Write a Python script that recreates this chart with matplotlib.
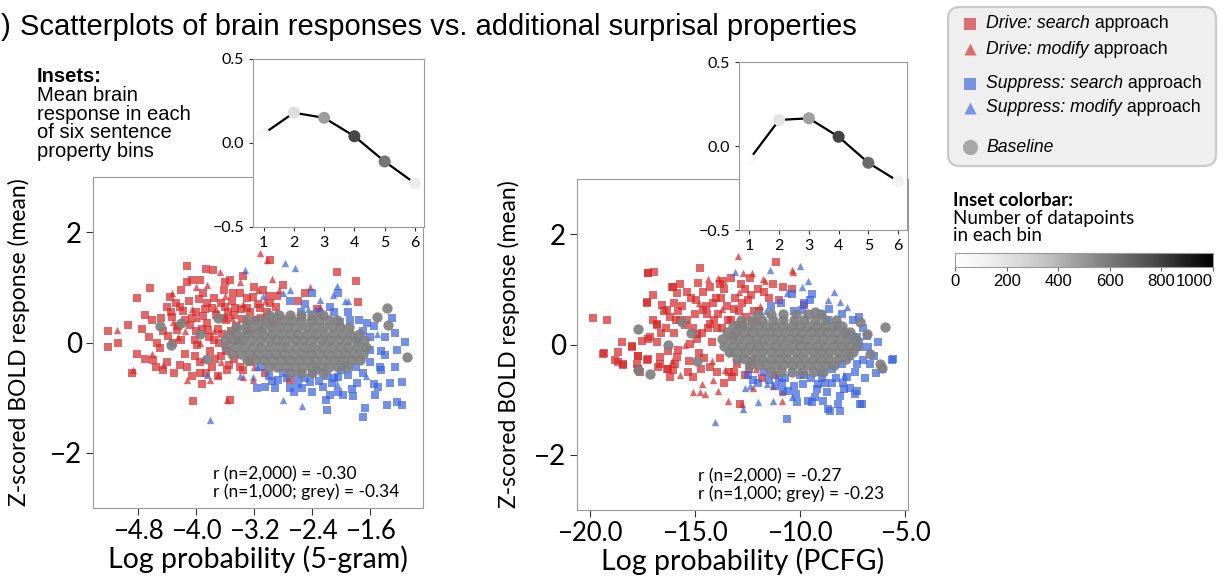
import numpy as np
import matplotlib
matplotlib.use("Agg")
import matplotlib.pyplot as plt
from matplotlib.patches import FancyBboxPatch
from matplotlib.colors import Normalize
from matplotlib.cm import ScalarMappable

# ---------------- data ----------------
# 5-gram log probability panel: (log prob, z-scored BOLD)
drive_search_5g = [
    (-5.21, 0.2), (-5.21, -0.08), (-5.08, 0.0), (-4.94, 0.32), (-4.81, 0.81), (-4.63, 0.98),
    (-4.70, 0.5), (-4.81, -0.2), (-4.88, -0.55), (-4.59, -0.32), (-4.45, -0.5), (-4.13, 1.38),
    (-4.06, 1.14), (-3.94, 1.14), (-3.86, 1.34), (-3.77, 1.32), (-4.04, -1.06), (-3.94, -0.55),
    (-4.22, 0.65), (-4.33, 0.47), (-4.26, 0.23), (-3.85, 0.72), (-3.53, 1.14), (-3.49, 0.9),
    (-2.98, 1.5), (-2.06, 1.27), (-1.79, 1.12), (-1.77, 0.74), (-2.33, 0.6), (-2.70, -0.68),
    (-3.57, -0.5), (-3.53, -1.04), (-4.54, 0.0), (-4.39, 0.11),
    (-4.35, 0.55), (-4.25, 0.3), (-4.2, 0.05), (-4.15, -0.2), (-4.1, 0.75), (-4.05, 0.45),
    (-4.0, 0.2), (-3.98, -0.05), (-3.95, -0.35), (-3.9, 0.9), (-3.88, 0.6), (-3.85, 0.35),
    (-3.82, 0.1), (-3.8, -0.15), (-3.78, -0.45), (-3.75, 0.8), (-3.72, 0.5), (-3.7, 0.25),
    (-3.68, 0.0), (-3.65, -0.25), (-3.62, 0.95), (-3.6, 0.65), (-3.58, 0.4), (-3.55, -0.4),
    (-3.5, 0.75), (-3.48, 0.5), (-3.45, 0.3), (-3.4, 0.9), (-3.38, 0.6), (-3.35, -0.5),
    (-3.3, 0.8), (-3.25, 0.55), (-3.2, 1.0), (-3.15, 0.7), (-3.1, 0.45), (-3.05, -0.55),
    (-3.0, 0.85), (-2.9, 0.65), (-2.8, 1.05), (-4.45, 0.2), (-4.5, -0.1), (-4.4, -0.35),
    (-4.3, -0.55), (-4.6, 0.4), (-4.65, 0.1), (-4.7, -0.3), (-4.75, 0.25), (-4.55, -0.45),
    (-4.05, -0.6), (-3.92, -0.75), (-4.2, 0.95), (-4.12, 1.1), (-3.7, -0.6), (-2.95, 0.35),
    (-3.25, -0.35), (-4.0, 0.55), (-3.92, 0.25), (-3.75, 0.05), (-3.62, 0.45), (-4.15, 0.4),
    (-4.28, 0.72), (-4.18, 0.58), (-4.08, 0.32), (-4.02, 0.05), (-3.96, 0.78), (-3.9, 0.48),
    (-3.84, 0.22), (-3.78, 0.62), (-3.74, -0.3), (-3.66, 0.72), (-3.64, 0.15), (-3.56, 0.55),
    (-3.52, 0.2), (-3.46, 0.62), (-3.42, 0.05), (-3.36, 0.42), (-3.3, 0.62), (-3.28, 0.2),
    (-3.22, 0.82), (-3.18, 0.4), (-3.12, 0.62), (-3.08, 0.95), (-3.02, 0.55), (-2.98, 0.72),
    (-2.88, 0.85), (-4.32, 0.0), (-4.22, -0.4), (-4.12, -0.45), (-4.4, 0.65), (-4.48, 0.45),
    (-4.36, 0.82), (-3.58, -0.15), (-3.48, -0.3), (-3.4, -0.45), (-4.02, -0.25), (-3.86, -0.55),
    (-2.6, 0.75), (-2.5, 0.9), (-3.35, 1.2), (-3.6, 1.1),
]
drive_modify_5g = [
    (-5.09, 0.23), (-4.87, -0.5), (-4.33, 0.9), (-4.13, -0.68), (-3.81, -0.68), (-3.70, -0.59),
    (-3.35, -0.62), (-3.21, -0.68), (-3.12, 1.63), (-3.02, 1.5), (-3.67, 1.27), (-3.39, 1.1),
    (-2.43, 1.01), (-2.29, 0.65), (-3.57, -1.04), (-4.32, 0.38),
    (-4.25, 0.1), (-4.05, 0.6), (-3.9, -0.3), (-3.75, 0.2), (-3.6, 0.85), (-3.45, -0.2),
    (-3.3, 0.4), (-3.15, 0.95), (-4.45, -0.4), (-4.0, 1.0), (-3.55, 0.05), (-3.2, -0.45),
    (-4.6, -0.2), (-3.05, 0.75), (-2.95, 1.15),
    (-4.15, 0.2), (-3.98, 0.45), (-3.72, 0.6), (-3.5, 0.45), (-3.35, 0.7), (-3.65, -0.35),
    (-3.95, 0.0), (-3.85, 1.05), (-3.1, 0.3), (-2.85, 0.95),
]
suppress_search_5g = [
    (-2.40, 0.9), (-2.04, 0.9), (-1.26, 0.18), (-1.12, 0.01), (-1.23, -0.13), (-1.39, -0.22),
    (-1.46, -0.44), (-1.26, -0.44), (-1.16, -0.71), (-1.32, -0.73), (-1.49, -0.8), (-1.23, -1.08),
    (-1.16, -1.13), (-1.37, -1.13), (-1.67, -1.19), (-1.70, -1.35), (-1.53, -0.95), (-1.83, -0.97),
    (-1.97, -0.95), (-2.04, -0.89), (-2.19, -1.22), (-2.21, -1.04), (-2.13, -0.73), (-2.25, -0.8),
    (-2.40, -0.89), (-2.54, -0.82), (-2.43, -0.71), (-2.70, -0.82), (-2.87, -0.68), (-2.91, -0.82),
    (-3.05, -0.8), (-3.16, -0.82), (-1.77, 0.05), (-1.70, 0.2), (-1.88, 0.41), (-2.01, 0.38),
    (-1.64, 0.35), (-1.60, -0.13), (-1.78, -0.73), (-1.90, -0.59), (-2.04, -0.62),
    (-2.6, -0.6), (-2.4, -0.55), (-2.2, -0.6), (-2.0, -0.5), (-1.8, -0.45), (-1.6, -0.35),
    (-1.45, -0.15), (-1.4, 0.1), (-1.55, 0.3), (-2.8, -0.55), (-3.0, -0.6), (-1.9, 0.55),
    (-2.15, 0.65), (-2.5, 0.7), (-2.7, 0.75), (-1.3, 0.45), (-2.3, -0.7), (-2.6, -0.75),
    (-2.95, -0.7), (-2.75, -0.65), (-2.5, -0.65), (-2.35, -0.5), (-2.1, -0.65), (-1.95, -0.4),
    (-1.7, -0.55), (-1.55, -0.75), (-1.85, -0.85), (-2.15, -0.95), (-1.75, 0.4), (-2.1, 0.55),
    (-2.3, 0.55), (-1.6, 0.1), (-1.45, -0.5), (-2.65, -0.9), (-3.1, -0.45), (-2.55, 0.55),
]
suppress_modify_5g = [
    (-2.06, 1.03), (-2.29, 0.77), (-1.90, 0.76), (-2.80, -1.04), (-2.54, -1.15), (-2.77, 1.45),
    (-2.63, 1.35), (-3.07, 0.84), (-2.80, 0.9), (-3.21, -0.62), (-3.16, -0.44), (-3.81, -1.41),
    (-3.32, 1.32), (-1.94, 0.76), (-2.11, 0.86), (-3.85, -0.59),
    (-2.9, 0.55), (-2.45, 0.6), (-1.65, -0.6), (-2.05, -0.75), (-1.5, 0.15), (-3.4, -0.6),
    (-2.7, 0.95),
]
baseline_5g = [
    (-1.09, -0.26), (-1.37, 0.63), (-1.35, 0.32), (-1.50, 0.47), (-4.2, 0.35), (-3.95, 0.15),
    (-4.35, -0.05), (-3.85, -0.3), (-4.5, 0.3), (-3.7, 0.45),
    (-3.0, 0.5), (-2.85, 0.5), (-2.7, 0.5), (-2.55, 0.5), (-2.4, 0.5), (-2.25, 0.5),
    (-3.3, 0.4), (-3.17, 0.4), (-3.05, 0.4), (-2.92, 0.4), (-2.8, 0.4), (-2.67, 0.4),
    (-2.55, 0.4), (-2.42, 0.4), (-2.3, 0.4), (-2.17, 0.4), (-2.05, 0.4),
    (-3.45, 0.28), (-3.33, 0.28), (-3.21, 0.28), (-3.09, 0.28), (-2.97, 0.28), (-2.85, 0.28),
    (-2.73, 0.28), (-2.61, 0.28), (-2.49, 0.28), (-2.37, 0.28), (-2.25, 0.28), (-2.13, 0.28),
    (-2.01, 0.28), (-1.89, 0.28),
    (-3.55, 0.16), (-3.43, 0.16), (-3.31, 0.16), (-3.19, 0.16), (-3.07, 0.16), (-2.95, 0.16),
    (-2.83, 0.16), (-2.71, 0.16), (-2.59, 0.16), (-2.47, 0.16), (-2.35, 0.16), (-2.23, 0.16),
    (-2.11, 0.16), (-1.99, 0.16), (-1.87, 0.16), (-1.75, 0.16),
    (-3.6, 0.04), (-3.48, 0.04), (-3.36, 0.04), (-3.24, 0.04), (-3.12, 0.04), (-3.0, 0.04),
    (-2.88, 0.04), (-2.76, 0.04), (-2.64, 0.04), (-2.52, 0.04), (-2.4, 0.04), (-2.28, 0.04),
    (-2.16, 0.04), (-2.04, 0.04), (-1.92, 0.04), (-1.8, 0.04), (-1.68, 0.04),
    (-3.58, -0.08), (-3.46, -0.08), (-3.34, -0.08), (-3.22, -0.08), (-3.1, -0.08), (-2.98, -0.08),
    (-2.86, -0.08), (-2.74, -0.08), (-2.62, -0.08), (-2.5, -0.08), (-2.38, -0.08), (-2.26, -0.08),
    (-2.14, -0.08), (-2.02, -0.08), (-1.9, -0.08), (-1.78, -0.08), (-1.66, -0.08),
    (-3.5, -0.2), (-3.38, -0.2), (-3.26, -0.2), (-3.14, -0.2), (-3.02, -0.2), (-2.9, -0.2),
    (-2.78, -0.2), (-2.66, -0.2), (-2.54, -0.2), (-2.42, -0.2), (-2.3, -0.2), (-2.18, -0.2),
    (-2.06, -0.2), (-1.94, -0.2), (-1.82, -0.2), (-1.7, -0.2),
    (-3.3, -0.32), (-3.18, -0.32), (-3.06, -0.32), (-2.94, -0.32), (-2.82, -0.32), (-2.7, -0.32),
    (-2.58, -0.32), (-2.46, -0.32), (-2.34, -0.32), (-2.22, -0.32), (-2.1, -0.32), (-1.98, -0.32),
    (-1.86, -0.32), (-1.74, -0.32),
    (-3.0, -0.44), (-2.88, -0.44), (-2.76, -0.44), (-2.64, -0.44), (-2.52, -0.44), (-2.4, -0.44),
    (-2.28, -0.44), (-2.16, -0.44), (-2.04, -0.44), (-1.92, -0.44),
    (-2.7, -0.55), (-2.55, -0.55), (-2.4, -0.55), (-2.25, -0.55),
]

# PCFG log probability panel
drive_search_pcfg = [
    (-19.87, 0.48), (-19.2, 0.44), (-19.33, -0.16), (-18.49, 0.04), (-18.68, -0.32), (-18.44, -0.35),
    (-18.02, -0.03), (-17.71, -0.2), (-17.25, -0.27), (-17.71, -0.45), (-17.25, 1.3), (-17.14, 0.13),
    (-16.82, 0.36), (-16.67, -0.35), (-16.35, -0.44), (-16.29, -0.11), (-15.87, -0.23), (-16.03, 1.04),
    (-15.87, 0.93), (-16.59, 0.71), (-17.3, 0.75), (-16.35, 0.62), (-14.76, 1.38), (-14.84, 1.11),
    (-15.4, 0.44), (-15.24, 0.01), (-14.92, 0.19), (-14.6, 0.62), (-14.29, 0.38), (-13.81, 1.1),
    (-13.65, 1.16), (-12.86, -1.08), (-13.25, -0.59), (-11.14, 1.5), (-10.79, 1.04), (-10.4, 1.01),
    (-9.81, 0.71), (-16.03, -0.47), (-17.78, -0.35), (-17.22, 1.3), (-16.95, 1.31), (-16.11, 1.04),
    (-17.3, 0.77), (-17.22, 0.1), (-18.01, -0.05), (-17.54, 0.07), (-18.65, -0.14), (-19.37, -0.17),
    (-18.81, -0.29), (-18.41, -0.38), (-17.7, -0.2), (-17.3, -0.29), (-16.83, 0.38), (-16.67, -0.23),
    (-16.75, -0.4), (-16.27, -0.44), (-16.19, -0.59), (-17.7, -0.44), (-17.62, -0.5), (-15.08, -0.59),
    (-16.2, 0.5), (-16.0, 0.2), (-15.8, -0.1), (-15.6, 0.7), (-15.5, 0.35), (-15.3, -0.3),
    (-15.2, 0.85), (-15.0, 0.55), (-14.9, 0.1), (-14.8, -0.15), (-14.6, 0.95), (-14.5, 0.7),
    (-14.4, 0.3), (-14.3, -0.4), (-14.2, 0.05), (-14.0, 0.85), (-13.9, 0.55), (-13.8, -0.25),
    (-13.7, 0.3), (-13.6, 1.0), (-13.5, 0.7), (-13.4, -0.5), (-13.3, 0.45), (-13.2, 0.15),
    (-13.1, 0.85), (-13.0, -0.35), (-12.9, 0.6), (-12.8, 1.1), (-12.7, 0.35), (-12.6, -0.55),
    (-12.5, 0.8), (-12.4, 1.2), (-12.2, 0.6), (-12.0, 1.0), (-11.8, -0.6), (-16.5, 0.6),
    (-16.8, 0.05), (-17.0, 0.9), (-15.7, 1.1), (-14.7, -0.45), (-13.6, -0.7), (-11.5, 0.85),
    (-11.2, -0.55), (-15.9, 0.45), (-14.1, 0.45), (-12.3, -0.3),
    (-16.4, 0.3), (-16.0, 0.75), (-15.7, 0.45), (-15.4, 0.95), (-15.1, 0.3), (-14.95, 0.8),
    (-14.65, 0.2), (-14.45, 0.55), (-14.15, 0.75), (-13.95, 0.3), (-13.75, 0.85), (-13.45, 0.45),
    (-13.15, 0.65), (-12.95, 0.35), (-12.75, 0.75), (-12.55, 0.5), (-12.35, 0.9), (-12.15, 0.4),
    (-11.95, 0.6), (-11.7, 0.95), (-15.95, -0.35), (-15.35, -0.5), (-14.55, -0.25), (-13.95, -0.5),
    (-13.15, -0.5), (-12.45, -0.45), (-16.6, 0.2), (-17.0, 0.45), (-15.8, 0.6), (-14.3, 1.05),
    (-13.3, 1.2), (-12.6, 1.0), (-11.3, 1.1), (-11.0, 0.8),
]
drive_modify_pcfg = [
    (-12.94, 1.6), (-11.75, 1.19), (-10.4, 1.35), (-12.7, 1.29), (-15.08, -0.87), (-14.76, -0.87),
    (-14.52, -0.89), (-13.89, -0.84), (-13.41, -1.02), (-14.68, -0.71), (-14.13, -0.65), (-13.57, -0.47),
    (-10.87, -0.87), (-12.22, -0.78), (-14.37, 1.19), (-15.71, -0.56), (-10.87, -1.02), (-11.67, 1.16),
    (-10.35, 1.31), (-11.27, -0.75), (-12.78, -1.08),
    (-15.5, 0.0), (-14.8, 0.75), (-14.2, -0.3), (-13.7, 0.65), (-13.3, -0.15), (-12.9, 0.95),
    (-12.5, 0.2), (-12.1, -0.45), (-11.9, 0.7), (-16.1, -0.3), (-13.9, 1.2), (-12.3, 1.3),
]
suppress_search_pcfg = [
    (-5.59, -0.27), (-6.38, -0.52), (-6.75, -0.05), (-7.3, 0.13), (-6.98, -0.29), (-7.38, -0.5),
    (-7.78, -0.59), (-7.62, -0.78), (-7.38, -0.89), (-7.06, -1.07), (-8.1, -0.93), (-8.18, -1.08),
    (-8.1, -1.2), (-8.57, -1.2), (-8.89, -1.02), (-8.73, -0.87), (-9.13, -0.71), (-9.44, -1.05),
    (-10.16, -1.05), (-10.63, -1.35), (-10.56, -0.84), (-10.87, -0.69), (-9.84, -0.71), (-9.44, 0.92),
    (-9.52, 0.8), (-9.92, 0.62), (-8.25, 0.35), (-8.65, 0.44), (-10.4, 0.92), (-8.49, -0.69),
    (-7.94, -0.69), (-9.6, -1.02), (-8.65, -1.17), (-7.14, -1.08), (-7.3, -0.84), (-5.63, -0.29),
    (-6.11, -0.44), (-6.67, -0.35), (-7.46, 0.13), (-7.14, -0.05), (-10.79, -0.84), (-12.22, -0.65),
    (-10.0, -0.55), (-9.5, -0.6), (-9.0, -0.5), (-8.5, -0.45), (-8.0, -0.35), (-7.6, -0.2),
    (-7.2, 0.05), (-7.0, 0.3), (-7.5, 0.45), (-11.0, -0.6), (-11.5, -0.65), (-12.0, -0.7),
    (-9.2, -0.8), (-8.8, -0.7), (-10.3, -0.75), (-9.0, 0.55), (-8.6, 0.65), (-10.9, 0.75),
    (-6.5, -0.2), (-6.3, 0.05),
    (-12.5, -0.55), (-11.7, -0.5), (-11.2, -0.75), (-10.7, -0.6), (-10.2, -0.9), (-9.8, -0.55),
    (-9.3, -0.95), (-8.95, -0.6), (-8.3, -0.6), (-7.9, -0.8), (-7.3, -0.35), (-6.9, -0.6),
    (-6.8, 0.15), (-7.2, 0.5), (-8.0, 0.55), (-9.8, 0.75), (-10.3, 0.6), (-11.4, 0.7),
]
suppress_modify_pcfg = [
    (-14.05, -1.41), (-13.1, 1.31), (-10.0, 1.42), (-9.92, 1.04), (-10.63, 0.93), (-8.1, 0.77),
    (-7.78, 0.68), (-11.98, -1.05), (-11.27, -1.02), (-11.43, 1.35), (-8.65, 0.8), (-12.7, -1.17),
    (-12.62, -0.78), (-11.59, -0.71), (-12.86, -0.26),
    (-11.6, 0.6), (-12.4, -0.75), (-9.6, 1.15), (-7.9, -0.55), (-10.4, -0.95), (-8.4, 0.95),
]
baseline_pcfg = [
    (-17.7, 0.29), (-17.14, -0.53), (-17.7, -0.46), (-15.6, 0.4), (-14.9, -0.3), (-15.2, 0.2),
    (-16.3, 0.0), (-7.14, 0.41), (-5.95, 0.31), (-6.83, 0.19), (-6.19, -0.35), (-6.11, -0.43),
    (-6.67, -0.17), (-7.78, 0.19), (-9.29, 0.59),
    (-12.0, 0.55), (-11.4, 0.55), (-10.8, 0.55), (-10.2, 0.55), (-9.6, 0.55), (-9.0, 0.55),
    (-12.8, 0.45), (-12.3, 0.45), (-11.8, 0.45), (-11.3, 0.45), (-10.8, 0.45), (-10.3, 0.45),
    (-9.8, 0.45), (-9.3, 0.45), (-8.8, 0.45), (-8.3, 0.45),
    (-13.2, 0.33), (-12.8, 0.33), (-12.4, 0.33), (-12.0, 0.33), (-11.6, 0.33), (-11.2, 0.33),
    (-10.8, 0.33), (-10.4, 0.33), (-10.0, 0.33), (-9.6, 0.33), (-9.2, 0.33), (-8.8, 0.33),
    (-8.4, 0.33), (-8.0, 0.33),
    (-13.5, 0.22), (-13.1, 0.22), (-12.7, 0.22), (-12.3, 0.22), (-11.9, 0.22), (-11.5, 0.22),
    (-11.1, 0.22), (-10.7, 0.22), (-10.3, 0.22), (-9.9, 0.22), (-9.5, 0.22), (-9.1, 0.22),
    (-8.7, 0.22), (-8.3, 0.22), (-7.9, 0.22), (-7.6, 0.22),
    (-13.7, 0.1), (-13.3, 0.1), (-12.9, 0.1), (-12.5, 0.1), (-12.1, 0.1), (-11.7, 0.1),
    (-11.3, 0.1), (-10.9, 0.1), (-10.5, 0.1), (-10.1, 0.1), (-9.7, 0.1), (-9.3, 0.1),
    (-8.9, 0.1), (-8.5, 0.1), (-8.1, 0.1), (-7.7, 0.1), (-7.4, 0.1),
    (-13.6, -0.02), (-13.2, -0.02), (-12.8, -0.02), (-12.4, -0.02), (-12.0, -0.02), (-11.6, -0.02),
    (-11.2, -0.02), (-10.8, -0.02), (-10.4, -0.02), (-10.0, -0.02), (-9.6, -0.02), (-9.2, -0.02),
    (-8.8, -0.02), (-8.4, -0.02), (-8.0, -0.02), (-7.6, -0.02), (-7.3, -0.02),
    (-13.4, -0.14), (-13.0, -0.14), (-12.6, -0.14), (-12.2, -0.14), (-11.8, -0.14), (-11.4, -0.14),
    (-11.0, -0.14), (-10.6, -0.14), (-10.2, -0.14), (-9.8, -0.14), (-9.4, -0.14), (-9.0, -0.14),
    (-8.6, -0.14), (-8.2, -0.14), (-7.8, -0.14), (-7.5, -0.14),
    (-13.0, -0.26), (-12.6, -0.26), (-12.2, -0.26), (-11.8, -0.26), (-11.4, -0.26), (-11.0, -0.26),
    (-10.6, -0.26), (-10.2, -0.26), (-9.8, -0.26), (-9.4, -0.26), (-9.0, -0.26), (-8.6, -0.26),
    (-8.2, -0.26), (-7.8, -0.26),
    (-12.4, -0.38), (-12.0, -0.38), (-11.6, -0.38), (-11.2, -0.38), (-10.8, -0.38), (-10.4, -0.38),
    (-10.0, -0.38), (-9.6, -0.38), (-9.2, -0.38), (-8.8, -0.38), (-8.4, -0.38),
    (-11.4, -0.5), (-10.9, -0.5), (-10.4, -0.5), (-9.9, -0.5), (-9.4, -0.5), (-8.9, -0.5),
]

# inset: mean response per bin and bin counts
bins = [1, 2, 3, 4, 5, 6]
bin_mean_5g = [0.055, 0.18, 0.15, 0.04, -0.11, -0.24]
bin_count_5g = [40, 230, 480, 780, 620, 150]
bin_mean_pcfg = [-0.08, 0.155, 0.165, 0.055, -0.10, -0.21]
bin_count_pcfg = [30, 190, 470, 790, 650, 120]

r_text_5g = "r (n=2,000) = -0.30\nr (n=1,000; grey) = -0.34"
r_text_pcfg = "r (n=2,000) = -0.27\nr (n=1,000; grey) = -0.23"

# ---------------- style ----------------
RED = "#d62728"
BLUE = "#3a62dc"
GREY = "#808080"
SPINE = "#9a9a9a"
TICKFONT = "Lato"
TEXTFONT = "Liberation Sans"

W, H = 1226, 584
fig = plt.figure(figsize=(W / 100, H / 100), dpi=100)


def px_rect(x0, y0, x1, y1):
    return [x0 / W, 1 - y1 / H, (x1 - x0) / W, (y1 - y0) / H]


def scatter_panel(ax, ds, dm, ss, sm, base):
    for pts, col, mk in [(ds, RED, "s"), (dm, RED, "^"), (ss, BLUE, "s"), (sm, BLUE, "^")]:
        a = np.array(pts)
        ax.scatter(a[:, 0], a[:, 1], s=28, c=col, marker=mk, alpha=0.7, linewidths=0)
    b = np.array(base)
    ax.scatter(b[:, 0], b[:, 1], s=55, c=GREY, marker="o", alpha=0.92, linewidths=0)
    ax.set_ylim(-3, 3)
    ax.set_yticks([-2, 0, 2])
    ax.set_yticklabels(["\u22122", "0", "2"])
    for sp in ax.spines.values():
        sp.set_color(SPINE)
    ax.tick_params(axis="y", labelsize=20, color="#333333", length=5, pad=3)
    ax.tick_params(axis="x", labelsize=18.5, color="#333333", length=5, pad=3)
    for lab in ax.get_xticklabels() + ax.get_yticklabels():
        lab.set_fontfamily(TICKFONT)


def inset_panel(ax, means, counts):
    ax.plot(bins, means, color="black", lw=1.6, zorder=1)
    ax.scatter(bins, means, c=counts, cmap="Greys", norm=Normalize(0, 1000),
               s=75, zorder=2, linewidths=0)
    ax.set_ylim(-0.5, 0.5)
    ax.set_xlim(0.65, 6.3)
    ax.set_yticks([-0.5, 0.0, 0.5])
    ax.set_yticklabels(["\u22120.5", "0.0", "0.5"])
    ax.set_xticks(bins)
    for sp in ax.spines.values():
        sp.set_color(SPINE)
    ax.tick_params(labelsize=11.5, color="#333333", length=3)
    for lab in ax.get_xticklabels() + ax.get_yticklabels():
        lab.set_fontfamily(TICKFONT)


# left panel (5-gram)
ax1 = fig.add_axes(px_rect(93, 177, 423, 508))
scatter_panel(ax1, drive_search_5g, drive_modify_5g, suppress_search_5g,
              suppress_modify_5g, baseline_5g)
ax1.set_xlim(-5.42, -0.87)
ax1.set_xticks([-4.8, -4.0, -3.2, -2.4, -1.6])
ax1.set_xticklabels(["\u22124.8", "\u22124.0", "\u22123.2", "\u22122.4", "\u22121.6"],
                    fontfamily=TICKFONT)
ax1.set_xlabel("Log probability (5-gram)", fontsize=20.5, fontfamily=TICKFONT, labelpad=1)
ax1.set_ylabel("Z-scored BOLD response (mean)", fontsize=16.5, fontfamily=TICKFONT, labelpad=14)
ax1.text(0.364, 0.025, r_text_5g, transform=ax1.transAxes, fontsize=12.5,
         fontfamily=TICKFONT, va="bottom", ha="left", linespacing=1.05)

# right panel (PCFG)
ax2 = fig.add_axes(px_rect(577, 179, 908, 510))
scatter_panel(ax2, drive_search_pcfg, drive_modify_pcfg, suppress_search_pcfg,
              suppress_modify_pcfg, baseline_pcfg)
ax2.set_xlim(-20.62, -4.86)
ax2.set_xticks([-20, -15, -10, -5])
ax2.set_xticklabels(["\u221220.0", "\u221215.0", "\u221210.0", "\u22125.0"],
                    fontfamily=TICKFONT)
ax2.set_xlabel("Log probability (PCFG)", fontsize=20.5, fontfamily=TICKFONT, labelpad=1)
ax2.set_ylabel("Z-scored BOLD response (mean)", fontsize=16.5, fontfamily=TICKFONT, labelpad=10)
ax2.text(0.366, 0.025, r_text_pcfg, transform=ax2.transAxes, fontsize=12.5,
         fontfamily=TICKFONT, va="bottom", ha="left", linespacing=1.05)

# insets
in1 = fig.add_axes(px_rect(253, 59, 424, 227))
inset_panel(in1, bin_mean_5g, bin_count_5g)
in2 = fig.add_axes(px_rect(739, 62, 907, 230))
inset_panel(in2, bin_mean_pcfg, bin_count_pcfg)

# pixel-space overlay for title, notes and legend
ov = fig.add_axes([0, 0, 1, 1], zorder=-1)
ov.set_xlim(0, W)
ov.set_ylim(H, 0)
ov.axis("off")

ov.text(1, 27, ")", fontsize=21, fontfamily=TEXTFONT, ha="left", va="center")
ov.text(20, 27, "Scatterplots of brain responses vs. additional surprisal properties",
        fontsize=21, fontfamily=TEXTFONT, ha="left", va="center")

ov.text(37, 76, "Insets:", fontsize=14.5, fontweight="bold", fontfamily=TEXTFONT, va="center")
ov.text(37, 86, "Mean brain\nresponse in each\nof six sentence\nproperty bins", fontsize=14.5,
        fontfamily=TEXTFONT, va="top", linespacing=0.98)

# legend box
ov.add_patch(FancyBboxPatch((948, 7), 268, 159, boxstyle="round,pad=0,rounding_size=12",
                            facecolor="#efefef", edgecolor="#c9c9c9", linewidth=1.6))
legend_items = [
    (24, RED, "s", "Drive: search"),
    (49, RED, "^", "Drive: modify"),
    (84, BLUE, "s", "Suppress: search"),
    (108, BLUE, "^", "Suppress: modify"),
]
for y, col, mk, label in legend_items:
    ov.scatter([970], [y], s=75, c=col, marker=mk, alpha=0.65, linewidths=0)
    t = ov.text(986, y, label, fontsize=12.7, fontstyle="italic", fontfamily=TEXTFONT, va="center")
    ov.annotate(" approach", xy=(1, 0), xycoords=t, va="bottom", ha="left",
                fontsize=12.7, fontfamily=TEXTFONT)
ov.scatter([970], [147], s=120, c="#a8a8a8", marker="o", linewidths=0)
ov.text(986, 147, "Baseline", fontsize=12.7, fontstyle="italic", fontfamily=TEXTFONT, va="center")

# colorbar notes
ov.text(953, 200, "Inset colorbar:", fontsize=13.5, fontweight="bold", fontfamily=TICKFONT,
        va="center")
ov.text(953, 210, "Number of datapoints\nin each bin", fontsize=13.5, fontfamily=TICKFONT,
        va="top", linespacing=1.0)

cax = fig.add_axes(px_rect(955, 253, 1213, 267))
cb = fig.colorbar(ScalarMappable(norm=Normalize(0, 1000), cmap="Greys"), cax=cax,
                  orientation="horizontal")
cb.set_ticks([0, 200, 400, 600, 800, 1000])
cb.outline.set_edgecolor(SPINE)
cax.tick_params(labelsize=12, length=3, color="#666666", pad=2)
cb_labels = cax.get_xticklabels()
for lab in cb_labels:
    lab.set_fontfamily(TEXTFONT)
cb_labels[-1].set_horizontalalignment("right")

fig.savefig("out.png", dpi=100)
